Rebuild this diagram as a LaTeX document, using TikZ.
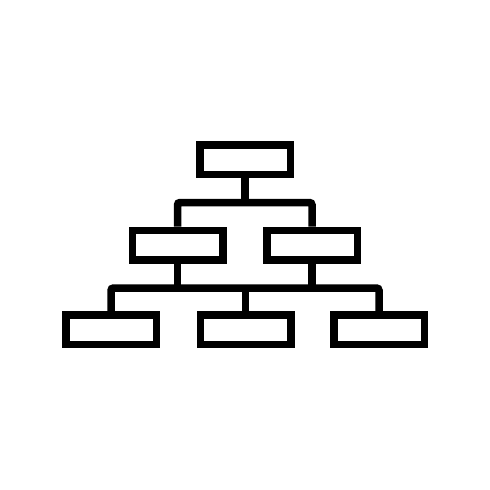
\documentclass[tikz,border=0pt]{standalone}
\begin{document}
\begin{tikzpicture}[x=1pt,y=-1pt,
  box/.style={draw=black,line width=7.5pt,rectangle,minimum width=90.5pt,minimum height=29.5pt,inner sep=0pt},
  link/.style={draw=black,line width=7.5pt,rounded corners=2.5pt}]
\useasboundingbox (0,0) rectangle (490,490);
\fill[white] (0,0) rectangle (490,490);
\node[box] (top) at (245,159.5) {};
\node[box] (ml) at (177.5,245) {};
\node[box] (mr) at (312,245) {};
\node[box] (bl) at (111,329.5) {};
\node[box] (bm) at (245.5,329.5) {};
\node[box] (br) at (379,329.5) {};
\coordinate (j1) at (245,202.5);
\coordinate (j2) at (245.5,288);
\draw[link] (top.south) -- (j1);
\draw[link] (ml.north) |- (j1) -| (mr.north);
\draw[link] (ml.south) -- (ml.south |- j2);
\draw[link] (mr.south) -- (mr.south |- j2);
\draw[link] (bl.north) |- (j2) -| (br.north);
\draw[link] (j2) -- (bm.north);
\end{tikzpicture}
\end{document}
